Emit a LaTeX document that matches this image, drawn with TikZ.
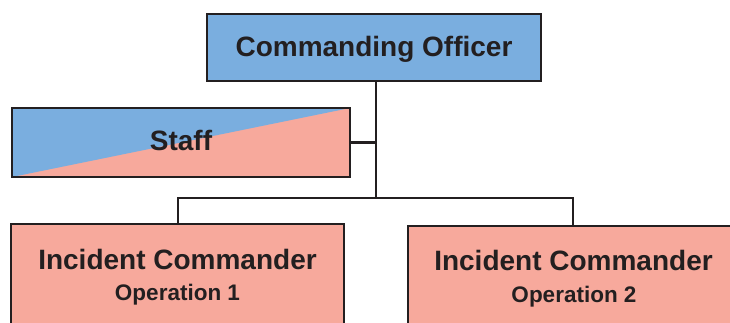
\documentclass[tikz,border=0pt]{standalone}
\usepackage{fontspec}
\setmainfont{Liberation Sans}
\begin{document}
\begin{tikzpicture}[x=1pt,y=-1pt,
  every node/.style={font=\bfseries, text=inkdark},
  unitbox/.style={draw=inkdark, line width=2.5pt, rectangle, inner sep=0pt},
  bigtext/.style={font=\fontsize{28}{30}\selectfont\bfseries, anchor=base, inner sep=0pt},
  smalltext/.style={font=\fontsize{22.5}{24}\selectfont\bfseries, anchor=base, inner sep=0pt},
  link/.style={draw=inkdark, line width=2.2pt}
]
\definecolor{inkdark}{HTML}{231F20}
\definecolor{boxblue}{HTML}{7AAEDF}
\definecolor{boxpink}{HTML}{F7A99C}
\useasboundingbox (0,0) rectangle (730,322);

% Commanding officer
\node[unitbox, fill=boxblue, minimum width=334pt, minimum height=67pt] (co) at (374,47.5) {};
\node[bigtext] (cot) at (374,56) {Commanding Officer};

% Staff box, split diagonally blue / pink
\node[unitbox, minimum width=338pt, minimum height=69pt,
  path picture={
    \fill[boxpink] (path picture bounding box.south west) rectangle (path picture bounding box.north east);
    \fill[boxblue] (path picture bounding box.south west) -- (path picture bounding box.north west)
      -- (path picture bounding box.north east) -- cycle;
  }] (staff) at (181,142.5) {};
\node[bigtext] (stafft) at (181,150) {Staff};

% Incident commanders
\node[unitbox, fill=boxpink, minimum width=333pt, minimum height=130pt] (ic1) at (177.5,289) {};
\node[bigtext] (ic1a) at (177.5,269) {Incident Commander};
\node[smalltext] (ic1b) at (177.5,300) {Operation 1};

\node[unitbox, fill=boxpink, minimum width=333pt, minimum height=130pt] (ic2) at (574.5,291) {};
\node[bigtext] (ic2a) at (573.5,270) {Incident Commander};
\node[smalltext] (ic2b) at (574,302) {Operation 2};

% Connectors
\coordinate (trunk) at (376,198);
\coordinate (branchL) at (178,198);
\coordinate (branchR) at (573,198);
\draw[link] (co.south -| trunk) -- (trunk);
\draw[link] (staff.east) -- (staff.east -| trunk);
\draw[link] (ic1.north -| branchL) -- (branchL) -- (branchR) -- (ic2.north -| branchR);
\end{tikzpicture}
\end{document}
